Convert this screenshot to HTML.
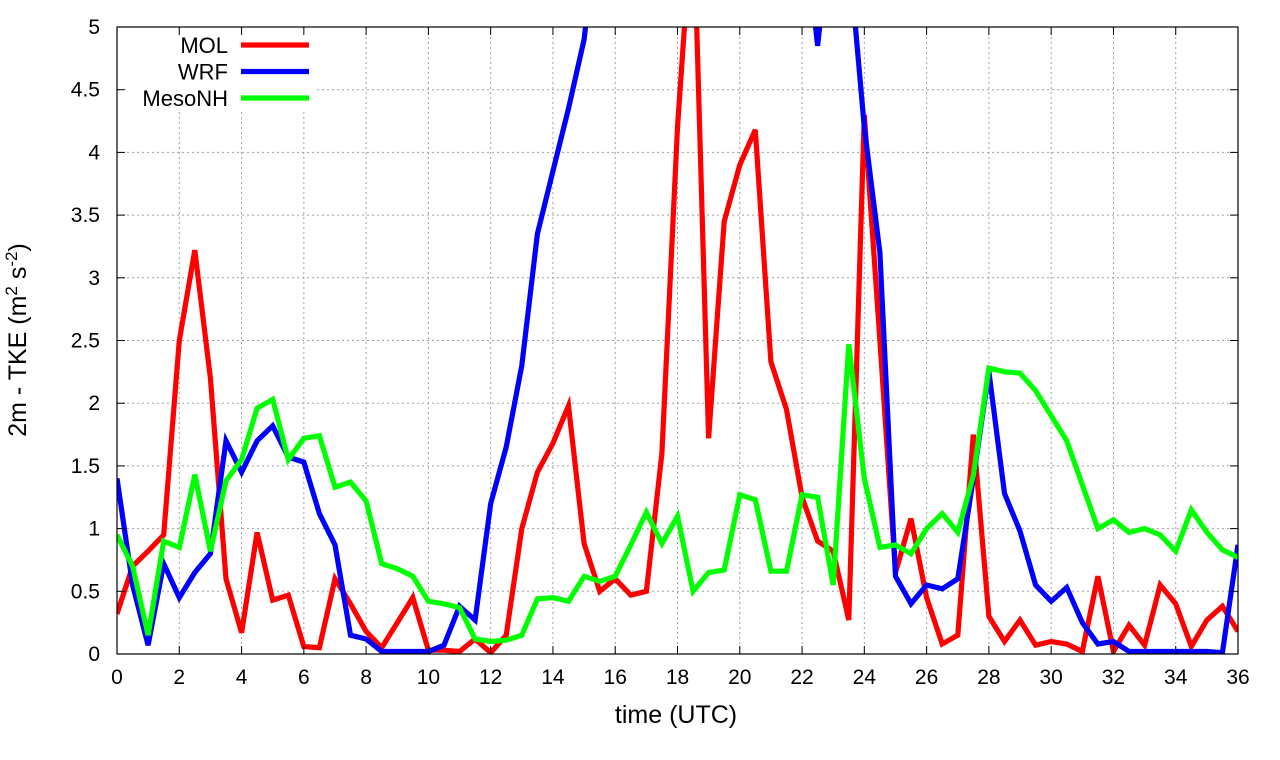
<!DOCTYPE html>
<html><head><meta charset="utf-8"><style>
body{margin:0;background:#fff}
svg{display:block;font-family:"Liberation Sans",sans-serif}
</style></head><body>
<svg id="chart" width="1280" height="760"></svg>
<script>
const hours = Array.from({length:73},(_,i)=>i*0.5);
const molValues = [0.32,0.7,0.82,0.95,2.5,3.22,2.2,0.6,0.17,0.97,0.43,0.47,0.06,0.05,0.6,0.4,0.18,0.05,0.25,0.45,0.03,0.03,0.02,0.12,0.01,0.15,1.0,1.45,1.68,1.98,0.88,0.5,0.6,0.47,0.5,1.6,4.2,6,1.72,3.45,3.9,4.18,2.33,1.95,1.25,0.9,0.82,0.27,4.3,2.5,0.65,1.08,0.45,0.08,0.15,1.75,0.3,0.1,0.27,0.07,0.1,0.08,0.02,0.62,0.02,0.23,0.07,0.55,0.4,0.06,0.27,0.38,0.18];
const wrfValues = [1.4,0.55,0.07,0.72,0.45,0.65,0.8,1.7,1.45,1.7,1.82,1.57,1.53,1.12,0.87,0.15,0.12,0.02,0.02,0.02,0.02,0.07,0.38,0.27,1.2,1.65,2.3,3.35,3.85,4.35,4.9,6,7,7,7,7,7,7,7,7,7,7,7,7,6,4.85,6,5.6,4.2,3.2,0.62,0.4,0.55,0.52,0.6,1.4,2.25,1.28,0.98,0.55,0.42,0.53,0.25,0.08,0.1,0.02,0.02,0.02,0.02,0.02,0.02,0.01,0.87];
const mesoValues = [0.95,0.7,0.15,0.9,0.85,1.43,0.82,1.38,1.55,1.96,2.03,1.55,1.72,1.74,1.33,1.37,1.22,0.72,0.68,0.62,0.42,0.4,0.37,0.12,0.1,0.11,0.15,0.44,0.45,0.42,0.62,0.58,0.62,0.87,1.13,0.88,1.1,0.5,0.65,0.67,1.27,1.23,0.66,0.66,1.27,1.25,0.55,2.47,1.4,0.85,0.87,0.8,1.0,1.12,0.97,1.42,2.28,2.25,2.24,2.1,1.9,1.7,1.35,1.0,1.07,0.97,1.0,0.95,0.82,1.15,0.97,0.83,0.77];
const xTicks = [0,2,4,6,8,10,12,14,16,18,20,22,24,26,28,30,32,34,36];
const yTicks = [0,0.5,1,1.5,2,2.5,3,3.5,4,4.5,5];
const yTickLabels = ["0","0.5","1","1.5","2","2.5","3","3.5","4","4.5","5"];
const seriesNames = ["MOL","WRF","MesoNH"];

const L=117,R=1238,T=27,B=654;
const xs=v=>L+(v/36)*(R-L);
const ys=v=>B-(v/5)*(B-T);
const NS="http://www.w3.org/2000/svg";
const svg=document.getElementById('chart');
function mk(tag,attrs,parent){const e=document.createElementNS(NS,tag);for(const k in attrs)e.setAttribute(k,attrs[k]);(parent||svg).appendChild(e);return e;}

const defs=mk('defs',{});
const cp=mk('clipPath',{id:'clip'},defs);
mk('rect',{x:L,y:T,width:R-L,height:B-T},cp);

xTicks.forEach(t=>{
  if(t===0||t===36)return;
  const g=mk('line',{x1:xs(t),x2:xs(t),y1:T,y2:B,stroke:'#a0a0a0','stroke-width':1,'stroke-dasharray':'2,3'});
  
  
});
yTicks.forEach(t=>{
  if(t===0||t===5)return;
  const g=mk('line',{x1:L,x2:R,y1:ys(t),y2:ys(t),stroke:'#a0a0a0','stroke-width':1,'stroke-dasharray':'2,3'});
  
  
});
const lb=mk('rect',{x:122,y:30,width:195,height:80,fill:'#fff'});



const colors=['#ff0000','#0000ff','#00ff00'];
const data=[molValues,wrfValues,mesoValues];
const g=mk('g',{'clip-path':'url(#clip)'});
[0,1,2].forEach(i=>{
  const d=data[i].map((v,j)=>(j?'L':'M')+xs(hours[j]).toFixed(1)+','+ys(v).toFixed(1)).join('');
  const p=mk('path',{d,fill:'none',stroke:colors[i],'stroke-width':5.2,'stroke-linejoin':'miter'},g);
  
  
});

const fr=mk('rect',{x:L,y:T,width:R-L,height:B-T,fill:'none',stroke:'#000','stroke-width':1.2});



xTicks.forEach(t=>{
  mk('line',{x1:xs(t),x2:xs(t),y1:B,y2:B-8,stroke:'#000'});
  mk('line',{x1:xs(t),x2:xs(t),y1:T,y2:T+8,stroke:'#000'});
  const tx=mk('text',{x:xs(t),y:B+30,'text-anchor':'middle','font-size':21,fill:'#000'});
  tx.textContent=t;
  
  
});
yTicks.forEach((t,i)=>{
  mk('line',{x1:L,x2:L+8,y1:ys(t),y2:ys(t),stroke:'#000'});
  mk('line',{x1:R,x2:R-8,y1:ys(t),y2:ys(t),stroke:'#000'});
  const tx=mk('text',{x:100,y:ys(t)+7,'text-anchor':'end','font-size':21,fill:'#000'});
  tx.textContent=yTickLabels[i];
  
  
});

seriesNames.forEach((n,i)=>{
  const y=45+i*26.5;
  const tx=mk('text',{x:228,y:y+8,'text-anchor':'end','font-size':22,fill:'#000'});
  tx.textContent=n;
  
  
  const ln=mk('line',{x1:241,x2:309,y1:y,y2:y,stroke:colors[i],'stroke-width':5.2});
  
  
});

const xt=mk('text',{x:676,y:723,'text-anchor':'middle','font-size':25,fill:'#000'});
xt.textContent='time (UTC)';


const yt=mk('text',{x:0,y:0,'text-anchor':'middle','font-size':25,fill:'#000',transform:'translate(26,340) rotate(-90)'});
yt.innerHTML='2m - TKE (m<tspan baseline-shift="super" font-size="17">2</tspan>  s<tspan baseline-shift="super" font-size="17">-2</tspan>)';


</script>
</body></html>
